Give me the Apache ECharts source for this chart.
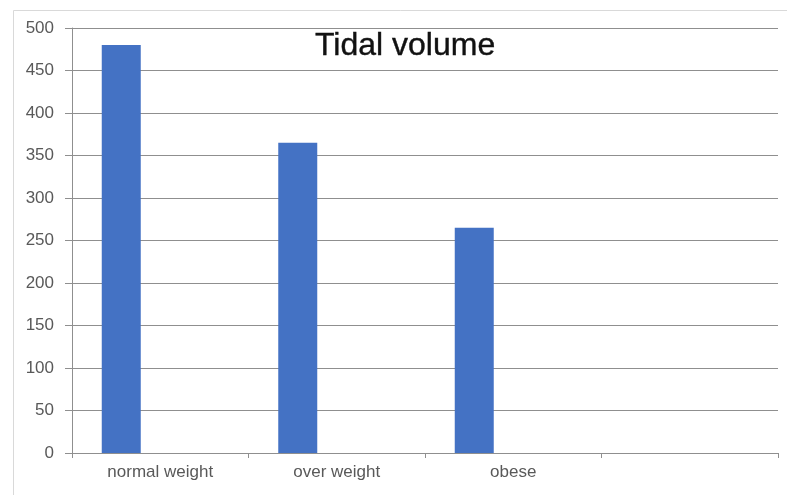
<!DOCTYPE html>
<html>
<head>
<meta charset="utf-8">
<script src="https://cdn.jsdelivr.net/npm/echarts@6/dist/echarts.min.js"></script>
<style>html,body{margin:0;padding:0;background:#fff;}#c{width:787px;height:495px;}</style>
</head>
<body>
<div id="c"></div>
<script>
const categories = ['normal weight', 'over weight', 'obese', ''];
const tidalVolume = [480, 365, 265, null];
const emptySeriesA = [null, null, null, null];
const emptySeriesB = [null, null, null, null];
const yTicks = [0, 50, 100, 150, 200, 250, 300, 350, 400, 450, 500];

const chart = echarts.init(document.getElementById('c'), null, {renderer: 'canvas'});
const gridColor = '#8f8f8f';
const labelColor = '#595959';
chart.setOption({
  animation: false,
  backgroundColor: '#fff',
  title: {
    text: 'Tidal volume',
    left: 315, top: 30,
    padding: 0,
    textStyle: {fontFamily: 'Liberation Sans, Arial, sans-serif', fontSize: 32, fontWeight: 'normal', color: '#111',
      textBorderColor: '#111', textBorderWidth: 0.4}
  },
  graphic: [{
    type: 'rect', left: 11, top: 8, silent: true,
    shape: {width: 800, height: 485},
    style: {fill: 'none', stroke: '#d9d9d9', lineWidth: 1}
  }],
  grid: {left: 72, right: 9, top: 28, bottom: 42, containLabel: false},
  xAxis: {
    type: 'category',
    data: categories,
    axisLine: {lineStyle: {color: gridColor, width: 1}},
    axisTick: {show: true, alignWithLabel: false, length: 5, lineStyle: {color: gridColor}},
    axisLabel: {color: labelColor, fontSize: 17, margin: 11, fontFamily: 'Liberation Sans, Arial, sans-serif'},
    splitLine: {show: false}
  },
  yAxis: {
    type: 'value',
    min: yTicks[0], max: yTicks[yTicks.length - 1], interval: 50,
    axisLine: {show: true, lineStyle: {color: gridColor, width: 1}},
    axisTick: {show: true, length: 7, lineStyle: {color: gridColor}},
    axisLabel: {color: labelColor, fontSize: 17, margin: 18, fontFamily: 'Liberation Sans, Arial, sans-serif'},
    splitLine: {show: true, lineStyle: {color: gridColor, width: 1}}
  },
  series: [
    {type: 'bar', data: tidalVolume, barWidth: 39, barGap: '0%', itemStyle: {color: '#4472C4'}},
    {type: 'bar', data: emptySeriesA, barWidth: 39, barGap: '0%', itemStyle: {color: '#ED7D31'}},
    {type: 'bar', data: emptySeriesB, barWidth: 39, barGap: '0%', itemStyle: {color: '#A5A5A5'}}
  ]
});
</script>
</body>
</html>
